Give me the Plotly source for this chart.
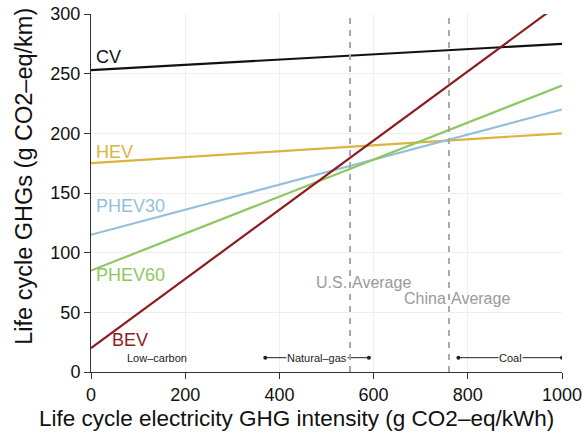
import plotly.graph_objects as go

# Data
x_ends = [0, 1000]
series_names = ["CV", "HEV", "PHEV30", "PHEV60", "BEV"]
series_values = {
    "CV": [253, 275],
    "HEV": [175, 200],
    "PHEV30": [115, 220],
    "PHEV60": [85, 240],
    "BEV": [20, 310],
}
colors = {
    "CV": "#111111",
    "HEV": "#d9b43f",
    "PHEV30": "#93bfdc",
    "PHEV60": "#8ec761",
    "BEV": "#8c1c22",
}
label_pos = {
    "CV": (6, 264),
    "HEV": (6, 184),
    "PHEV30": (6, 139),
    "PHEV60": (6, 81),
    "BEV": (40, 27),
}
averages = [("U.S.", "Average", 550, 75), ("China", "Average", 760, 62)]
ranges = [("Natural-gas", 370, 590), ("Coal", 780, 1000)]
low_carbon = ("Low\u2013carbon", 140)
band_y = 12
x_title = "Life cycle electricity GHG intensity (g CO2\u2013eq/kWh)"
y_title = "Life cycle GHGs (g CO2\u2013eq/km)"

FONT = "Liberation Sans, Arial, Helvetica, sans-serif"

fig = go.Figure()

for name in series_names:
    fig.add_trace(go.Scatter(x=x_ends, y=series_values[name], mode="lines",
                             line=dict(color=colors[name], width=2.2),
                             showlegend=False, hoverinfo="skip"))
    lx, ly = label_pos[name]
    fig.add_annotation(x=lx, y=ly, text=name, showarrow=False, xanchor="left",
                       yanchor="middle", font=dict(size=18, color=colors[name], family=FONT))

for city, word, xv, yv in averages:
    fig.add_shape(type="line", x0=xv, x1=xv, y0=0, y1=300, xref="x", yref="y",
                  line=dict(color="#a8a8a8", width=2, dash="6px,6px"), layer="above")
    fig.add_annotation(x=xv, y=yv, text=city, showarrow=False, xanchor="right",
                       xshift=-1, font=dict(size=16, color="#9a9a9a", family=FONT))
    fig.add_annotation(x=xv, y=yv, text=word, showarrow=False, xanchor="left",
                       xshift=0, font=dict(size=16, color="#9a9a9a", family=FONT))

for name, x0, x1 in ranges:
    fig.add_trace(go.Scatter(x=[x0, x1], y=[band_y, band_y], mode="lines+markers",
                             line=dict(color="#222222", width=1),
                             marker=dict(size=4, color="#222222"),
                             showlegend=False, hoverinfo="skip"))
    fig.add_annotation(x=(x0 + x1) / 2, y=band_y, text=name.replace("-", "\u2013"),
                       showarrow=False, bgcolor="white", borderpad=0,
                       font=dict(size=11, color="#222222", family=FONT))

fig.add_annotation(x=low_carbon[1], y=band_y, text=low_carbon[0], showarrow=False,
                   font=dict(size=11, color="#222222", family=FONT))

# axis titles as annotations (positioned like the reference)
fig.add_annotation(xref="paper", yref="paper", x=0.437, y=-0.131, text=x_title,
                   showarrow=False, xanchor="center", yanchor="middle",
                   font=dict(size=22.5, color="#111111", family=FONT))
fig.add_annotation(xref="paper", yref="paper", x=-0.144, y=0.546, text=y_title,
                   showarrow=False, textangle=-90, xanchor="center", yanchor="middle",
                   font=dict(size=23.5, color="#111111", family=FONT))

fig.update_layout(
    width=582, height=435,
    margin=dict(l=91, r=20, t=14, b=63),
    paper_bgcolor="white", plot_bgcolor="white",
    font=dict(family=FONT, size=18, color="#111111"),
)
fig.update_xaxes(range=[0, 1000], tickvals=[0, 200, 400, 600, 800, 1000],
                 automargin=False, ticklabeloverflow="allow",
                 showgrid=True, gridcolor="#eeeeee", gridwidth=1,
                 showline=True, linecolor="#333333", linewidth=1,
                 ticks="outside", ticklen=6, tickcolor="#333333",
                 zeroline=False, tickfont=dict(size=18))
fig.update_yaxes(range=[0, 300], tickvals=[0, 50, 100, 150, 200, 250, 300],
                 automargin=False, ticklabeloverflow="allow",
                 showgrid=True, gridcolor="#eeeeee", gridwidth=1,
                 showline=True, linecolor="#333333", linewidth=1,
                 ticks="outside", ticklen=6, tickcolor="#333333",
                 zeroline=False, tickfont=dict(size=18))

fig.write_html("out.html", config={"displayModeBar": False},
               post_script="document.body.style.margin='0px';document.body.style.overflow='hidden';")
